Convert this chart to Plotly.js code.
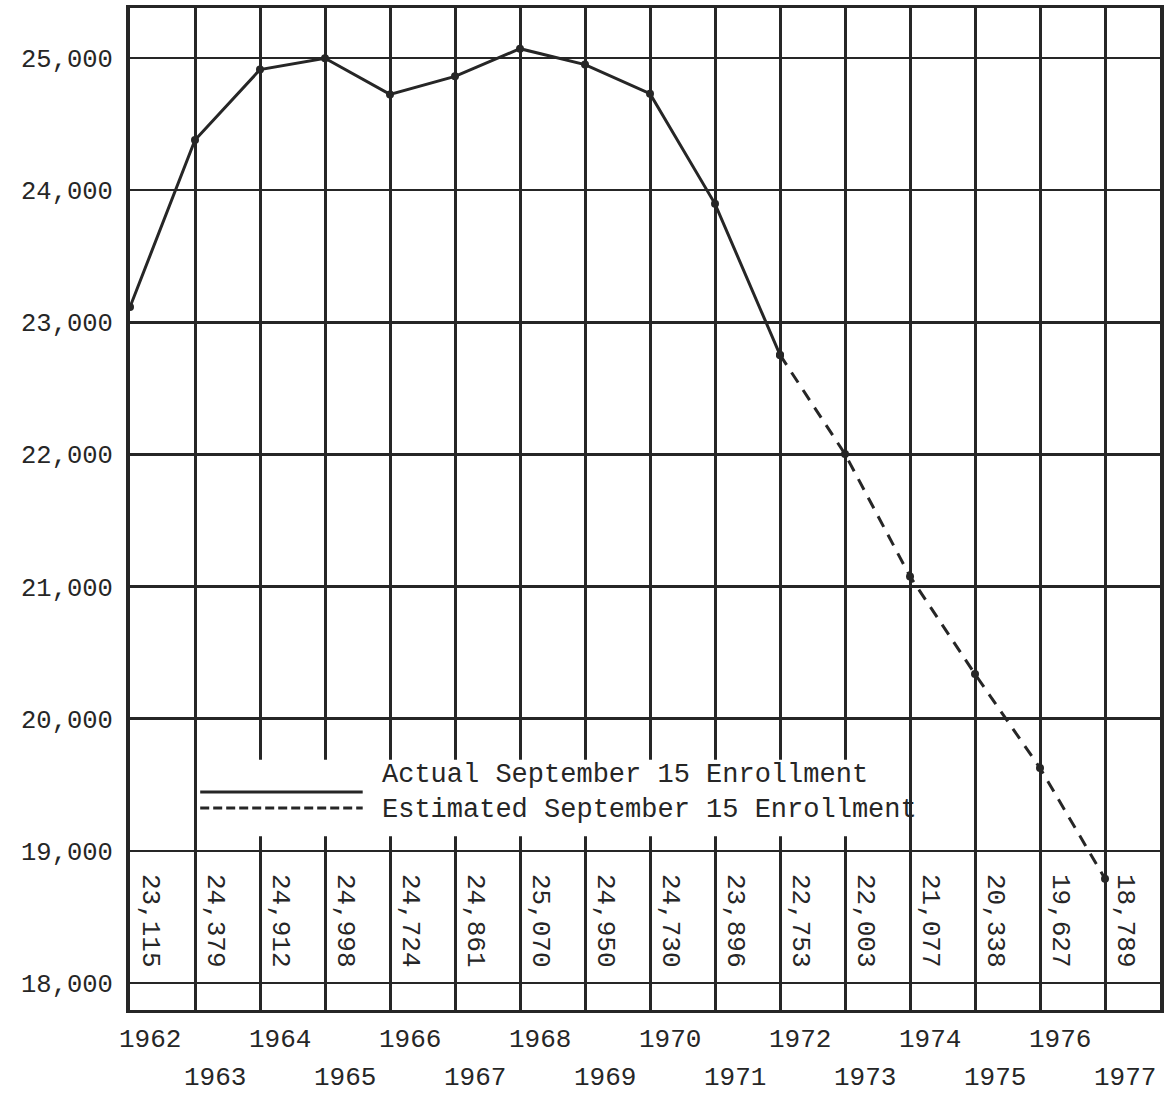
<!DOCTYPE html>
<html>
<head>
<meta charset="utf-8">
<script src="https://cdn.plot.ly/plotly-3.0.1.min.js"></script>
<style>
  html, body { margin: 0; padding: 0; background: #ffffff; }
  #chart { width: 1166px; height: 1100px; }
</style>
</head>
<body>
<div id="chart"></div>
<script>
// ---- data ----
const years = [1962, 1963, 1964, 1965, 1966, 1967, 1968, 1969, 1970, 1971, 1972, 1973, 1974, 1975, 1976, 1977];
const enrollment = [23115, 24379, 24912, 24998, 24724, 24861, 25070, 24950, 24730, 23896, 22753, 22003, 21077, 20338, 19627, 18789];
const lastActualYear = 1972;
const yTickValues = [18000, 19000, 20000, 21000, 22000, 23000, 24000, 25000];
const legendLabels = ["Actual September 15 Enrollment", "Estimated September 15 Enrollment"];

// ---- split into actual / estimated ----
const splitIdx = years.indexOf(lastActualYear);
const actX = years.slice(0, splitIdx + 1), actY = enrollment.slice(0, splitIdx + 1);
const estX = years.slice(splitIdx), estY = enrollment.slice(splitIdx);

const INK = '#262626';
const FONT = 'Liberation Mono, DejaVu Sans Mono, monospace';
const fmt = v => v.toLocaleString('en-US');

const traces = [
  { x: actX, y: actY, type: 'scatter', mode: 'lines+markers', name: legendLabels[0],
    line: { color: INK, width: 3 }, marker: { color: INK, size: 8 }, showlegend: false, cliponaxis: false },
  { x: estX, y: estY, type: 'scatter', mode: 'lines+markers', name: legendLabels[1],
    line: { color: INK, width: 3, dash: '12px,9px' }, marker: { color: INK, size: 8 }, showlegend: false, cliponaxis: false }
];

const annotations = [];
// rotated value labels in the bottom band
years.forEach((yr, i) => {
  annotations.push({ x: yr, y: 18470, xref: 'x', yref: 'y', text: fmt(enrollment[i]), textangle: 90,
    showarrow: false, xshift: 20, font: { family: FONT, size: 26, color: INK } });
});
// staggered year labels
years.forEach((yr, i) => {
  annotations.push({ x: yr, y: 0, xref: 'x', yref: 'paper', text: String(yr), showarrow: false,
    xshift: 20, yshift: (i % 2 === 0) ? -30 : -68, yanchor: 'middle',
    font: { family: FONT, size: 26, color: INK } });
});
// legend texts
annotations.push({ x: 1965.85, y: 19574, xref: 'x', yref: 'y', text: legendLabels[0], showarrow: false,
  xanchor: 'left', yanchor: 'middle', font: { family: FONT, size: 27, color: INK } });
annotations.push({ x: 1965.85, y: 19309, xref: 'x', yref: 'y', text: legendLabels[1], showarrow: false,
  xanchor: 'left', yanchor: 'middle', font: { family: FONT, size: 27, color: INK } });

const shapes = [
  // blank legend area (gridlines interrupted)
  { type: 'rect', xref: 'x', yref: 'y', x0: 1963.1, x1: 1973.97, y0: 19110, y1: 19690,
    fillcolor: '#ffffff', line: { width: 0 }, layer: 'above' },
  // legend samples
  { type: 'line', xref: 'x', yref: 'y', x0: 1963.08, x1: 1965.58, y0: 19445, y1: 19445,
    line: { color: INK, width: 3 }, layer: 'above' },
  { type: 'line', xref: 'x', yref: 'y', x0: 1963.08, x1: 1965.58, y0: 19324, y1: 19324,
    line: { color: INK, width: 3, dash: '9px,4px' }, layer: 'above' }
];

const layout = {
  width: 1166, height: 1100,
  margin: { l: 130, r: 6, t: 8, b: 90 },
  paper_bgcolor: '#ffffff', plot_bgcolor: '#ffffff',
  showlegend: false,
  xaxis: {
    range: [1962, 1977.846], tick0: 1962, dtick: 1, showticklabels: false, ticks: '',
    showgrid: true, gridcolor: INK, gridwidth: 3, zeroline: false,
    showline: true, linecolor: INK, linewidth: 3, mirror: true
  },
  yaxis: {
    range: [17796, 25378], tickvals: yTickValues, ticktext: yTickValues.map(fmt),
    ticks: 'outside', ticklen: 8, tickcolor: 'rgba(0,0,0,0)',
    tickfont: { family: FONT, size: 25.5, color: INK },
    showgrid: true, gridcolor: INK, gridwidth: 2.5, zeroline: false,
    showline: true, linecolor: INK, linewidth: 4, mirror: true
  },
  shapes: shapes,
  annotations: annotations
};

Plotly.newPlot('chart', traces, layout, { displayModeBar: false, staticPlot: true });
</script>
</body>
</html>
